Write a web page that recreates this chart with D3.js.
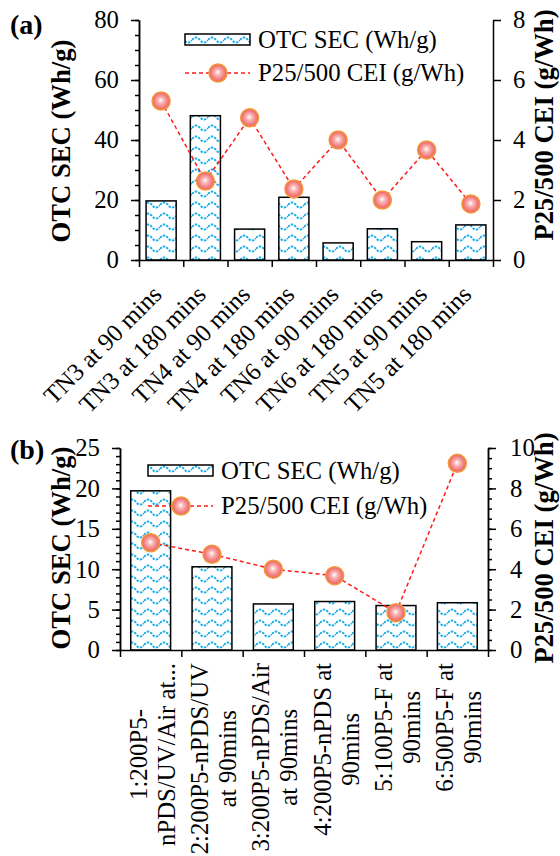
<!DOCTYPE html>
<html>
<head>
<meta charset="utf-8">
<script src="https://cdn.jsdelivr.net/npm/d3@7"></script>
<style>
body { margin: 0; background: #fff; }
svg text { font-family: "Liberation Serif", "Times New Roman", serif; fill: #000; }
</style>
</head>
<body>
<svg id="chart" width="560" height="856"></svg>
<script>
// ---- data, panel (a)
let catsA = ['TN3 at 90 mins', 'TN3 at 180 mins', 'TN4 at 90 mins', 'TN4 at 180 mins',
             'TN6 at 90 mins', 'TN6 at 180 mins', 'TN5 at 90 mins', 'TN5 at 180 mins'];
let secA = [19.7, 48.1, 10.3, 20.9, 5.7, 10.4, 6.1, 11.7];
let ceiA = [5.3, 2.63, 4.74, 2.37, 4.0, 2.0, 3.67, 1.87];
let leftTicksA = [0, 20, 40, 60, 80];
let rightTicksA = [0, 2, 4, 6, 8];

// ---- data, panel (b) (category labels already wrapped as in the figure)
let catsB = [['1:200P5-', 'nPDS/UV/Air at...'], ['2:200P5-nPDS/UV', 'at 90mins'],
             ['3:200P5-nPDS/Air', 'at 90mins'], ['4:200P5-nPDS at', '90mins'],
             ['5:100P5-F at', '90mins'], ['6:500P5-F at', '90mins']];
let secB = [19.7, 10.3, 5.7, 6.0, 5.5, 5.85];
let ceiB = [5.31, 4.74, 4.0, 3.68, 1.85, 9.24];
let leftTicksB = [0, 5, 10, 15, 20, 25];
let rightTicksB = [0, 2, 4, 6, 8, 10];

let seriesNames = ['OTC SEC (Wh/g)', 'P25/500 CEI (g/Wh)'];
let leftTitle = 'OTC SEC (Wh/g)';
let rightTitle = 'P25/500 CEI (g/Wh)';

let svg = d3.select('#chart');

// size the fonts so the legend / axis title come out as wide as in the figure
function measure(str, weight) {
    let t = svg.append('text').attr('font-size', 100).attr('font-weight', weight).text(str);
    let w = t.node().getComputedTextLength();
    t.remove();
    return w;
}
const FONT = 100 * 179 / measure(seriesNames[0], 'normal');
const FONT_B = 100 * 203 / measure(leftTitle, 'bold');

// fill pattern + marker gradient
let defs = svg.append('defs');
let pat = defs.append('pattern')
    .attr('id', 'wave')
    .attr('patternUnits', 'userSpaceOnUse')
    .attr('width', 16).attr('height', 11);
pat.append('rect').attr('width', 16).attr('height', 11).attr('fill', '#fff');
pat.append('path')
    .attr('d', 'M0,7 Q4,2 8,7 T16,7')
    .attr('fill', 'none')
    .attr('stroke', '#1eaeea')
    .attr('stroke-width', 2)
    .attr('stroke-dasharray', '2.4 1.2');

let grad = defs.append('radialGradient')
    .attr('id', 'ball')
    .attr('cx', '50%').attr('cy', '50%').attr('r', '50%')
    .attr('fx', '48%').attr('fy', '45%');
grad.append('stop').attr('offset', '0%').attr('stop-color', '#ffffff');
grad.append('stop').attr('offset', '35%').attr('stop-color', '#f8b2b2');
grad.append('stop').attr('offset', '100%').attr('stop-color', '#ee5b5b');

function styleAxis(sel) {
    sel.attr('font-size', FONT)
        .attr('font-family', '"Liberation Serif", "Times New Roman", serif');
    sel.select('.domain').attr('stroke-width', 1.5);
    sel.selectAll('.tick line').attr('stroke-width', 1.5);
}

function drawPanel(p) {
    let g = svg.append('g');
    let n = p.sec.length;

    let x = d3.scaleBand()
        .domain(d3.range(n))
        .range([p.left, p.right])
        .paddingInner(p.pad)
        .paddingOuter(p.pad / 2);
    let xEdge = d3.scaleLinear().domain([0, n]).range([p.left, p.right]);
    let y = d3.scaleLinear().domain([0, p.leftTicks[p.leftTicks.length - 1]]).range([p.bottom, p.top]);
    let y2 = d3.scaleLinear().domain([0, p.rightTicks[p.rightTicks.length - 1]]).range([p.bottom, p.top]);
    let cx = i => x(i) + x.bandwidth() / 2;

    // bars
    g.append('g')
        .selectAll('rect')
        .data(p.sec)
        .join('rect')
        .attr('x', (d, i) => x(i))
        .attr('y', d => y(d))
        .attr('width', x.bandwidth())
        .attr('height', d => p.bottom - y(d))
        .attr('fill', 'url(#wave)')
        .attr('stroke', '#000')
        .attr('stroke-width', 1.5);

    // left axis, minor then major
    g.append('g')
        .attr('transform', `translate(${p.left},0)`)
        .call(d3.axisLeft(y).tickValues(d3.range(0, y.domain()[1] + 1e-6, p.leftMinor))
            .tickSize(4).tickSizeOuter(0).tickFormat(''))
        .call(styleAxis);
    g.append('g')
        .attr('transform', `translate(${p.left},0)`)
        .call(d3.axisLeft(y).tickValues(p.leftTicks).tickSize(8).tickSizeOuter(0).tickPadding(12))
        .call(styleAxis);

    // right axis
    if (p.rightMinor) {
        g.append('g')
            .attr('transform', `translate(${p.right},0)`)
            .call(d3.axisRight(y2).tickValues(d3.range(0, y2.domain()[1] + 1e-6, p.rightMinor))
                .tickSize(4).tickSizeOuter(0).tickFormat(''))
            .call(styleAxis);
    }
    g.append('g')
        .attr('transform', `translate(${p.right},0)`)
        .call(d3.axisRight(y2).tickValues(p.rightTicks).tickSize(8).tickSizeOuter(0).tickPadding(p.rightPad))
        .call(styleAxis);

    // bottom axis: ticks between categories
    g.append('g')
        .attr('transform', `translate(0,${p.bottom})`)
        .call(d3.axisBottom(xEdge).tickValues(d3.range(n + 1)).tickSize(7).tickSizeOuter(0).tickFormat(''))
        .call(styleAxis);

    // dashed CEI line and markers
    let line = d3.line().x((d, i) => cx(i)).y(d => y2(d));
    g.append('path')
        .datum(p.cei)
        .attr('d', line)
        .attr('fill', 'none')
        .attr('stroke', '#ff1a1a')
        .attr('stroke-width', 1.5)
        .attr('stroke-dasharray', '4 3');
    g.append('g')
        .selectAll('circle')
        .data(p.cei)
        .join('circle')
        .attr('cx', (d, i) => cx(i))
        .attr('cy', d => y2(d))
        .attr('r', 9)
        .attr('fill', 'url(#ball)')
        .attr('stroke', '#f29a3a')
        .attr('stroke-width', 1.5);

    // category labels
    if (p.rotate45) {
        g.append('g')
            .selectAll('text')
            .data(p.cats)
            .join('text')
            .attr('font-size', FONT)
            .attr('text-anchor', 'end')
            .attr('transform', (d, i) => `translate(${cx(i) + 2},${p.bottom + 36}) rotate(-45)`)
            .text(d => d);
    } else {
        let lab = g.append('g')
            .selectAll('g')
            .data(p.cats)
            .join('g');
        lab.each(function (lines, i) {
            let ts = d3.select(this).selectAll('text')
                .data(lines)
                .join('text')
                .attr('font-size', FONT)
                .attr('text-anchor', 'middle')
                .text(d => d);
            let maxLen = d3.max(ts.nodes(), t => t.getComputedTextLength());
            let ymid = p.bottom + 13 + maxLen / 2;
            ts.attr('transform', (d, j) =>
                `translate(${cx(i) + 10 + (j - (lines.length - 1) / 2) * 28},${ymid}) rotate(-90)`);
        });
    }

    // legend
    let lg = g.append('g');
    lg.append('rect')
        .attr('x', p.legX).attr('y', p.legY - 6)
        .attr('width', 65).attr('height', 11)
        .attr('fill', 'url(#wave)')
        .attr('stroke', '#000').attr('stroke-width', 1.5);
    lg.append('line')
        .attr('x1', p.legX).attr('x2', p.legX + 65)
        .attr('y1', p.legY + p.legGap).attr('y2', p.legY + p.legGap)
        .attr('stroke', '#ff1a1a').attr('stroke-width', 1.5)
        .attr('stroke-dasharray', '4 3');
    lg.append('circle')
        .attr('cx', p.legX + 33).attr('cy', p.legY + p.legGap)
        .attr('r', 9)
        .attr('fill', 'url(#ball)')
        .attr('stroke', '#f29a3a').attr('stroke-width', 1.5);
    lg.selectAll('text')
        .data(seriesNames)
        .join('text')
        .attr('font-size', FONT)
        .attr('x', p.legX + 73)
        .attr('y', (d, i) => p.legY + i * p.legGap + 8)
        .text(d => d);

    // axis titles
    g.append('text')
        .attr('font-size', FONT_B).attr('font-weight', 'bold')
        .attr('text-anchor', 'middle')
        .attr('transform', `translate(${p.leftTitle[0]},${p.leftTitle[1]}) rotate(-90)`)
        .attr('dy', '0.35em')
        .text(leftTitle);
    g.append('text')
        .attr('font-size', FONT_B).attr('font-weight', 'bold')
        .attr('text-anchor', 'middle')
        .attr('transform', `translate(${p.rightTitle[0]},${p.rightTitle[1]}) rotate(-90)`)
        .attr('dy', '0.35em')
        .text(rightTitle);

    // panel tag
    g.append('text')
        .attr('font-size', FONT_B * 1.05).attr('font-weight', 'bold')
        .attr('x', 10).attr('y', p.tagY)
        .text(p.tag);
}

drawPanel({
    tag: '(a)', tagY: 34,
    cats: catsA, sec: secA, cei: ceiA,
    leftTicks: leftTicksA, rightTicks: rightTicksA,
    leftMinor: 5, rightMinor: null, rightPad: 12,
    left: 139, right: 493, top: 20, bottom: 260, pad: 0.32,
    rotate45: true,
    legX: 185, legY: 40, legGap: 33,
    leftTitle: [61, 141], rightTitle: [544, 125]
});

drawPanel({
    tag: '(b)', tagY: 459,
    cats: catsB, sec: secB, cei: ceiB,
    leftTicks: leftTicksB, rightTicks: rightTicksB,
    leftMinor: 1, rightMinor: 0.5, rightPad: 14,
    left: 120, right: 488, top: 448, bottom: 650, pad: 0.35,
    rotate45: false,
    legX: 148, legY: 471, legGap: 35,
    leftTitle: [61, 548], rightTitle: [544, 548]
});
</script>
</body>
</html>
